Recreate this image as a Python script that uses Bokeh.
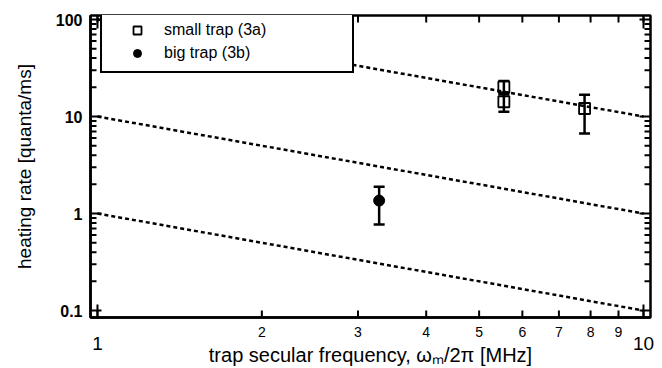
from bokeh.plotting import figure
from bokeh.models import (FixedTicker, LogAxis, Whisker, TeeHead, ColumnDataSource,
                          Legend, LegendItem, Range1d)
from bokeh.embed import file_html
from bokeh.resources import INLINE

# ---- data ----
x_ticks = [1, 2, 3, 4, 5, 6, 7, 8, 9, 10]
x_tick_labels = ["", "2", "3", "4", "5", "6", "7", "8", "9", ""]
x_big_ticks = [1, 10]
x_big_labels = ["1", "10"]
y_ticks = [0.1, 1, 10, 100]
y_tick_labels = ["0.1", "1", "10", "100"]
y_minor = [0.2, 0.3, 0.4, 0.5, 0.6, 0.7, 0.8, 0.9,
           2, 3, 4, 5, 6, 7, 8, 9,
           20, 30, 40, 50, 60, 70, 80, 90]

small_x = [5.55, 5.55, 7.8]
small_y = [20.2, 14.2, 12.1]
small_lo = [17.0, 11.2, 6.7]
small_hi = [23.3, 17.5, 16.8]

big_x = [3.28]
big_y = [1.36]
big_lo = [0.77]
big_hi = [1.89]

ref_x = [1, 10]
ref_y_low = [1, 0.1]
ref_y_mid = [10, 1]
ref_y_high = [100, 10]

FONT = "Liberation Sans"
X0, X1 = 0.971, 10.3
Y0, Y1 = 0.0848, 110

p = figure(width=662, height=368, x_axis_type="log", y_axis_type="log",
           x_range=Range1d(X0, X1), y_range=Range1d(Y0, Y1),
           output_backend="svg", toolbar_location=None,
           min_border_left=90, min_border_right=12, min_border_top=15, min_border_bottom=49)
p.grid.visible = False
p.outline_line_color = "black"
p.outline_line_width = 2.5
p.outline_line_alpha = 1.0
p.background_fill_color = "white"
p.border_fill_color = "white"

# bottom axis (small labels 2..9)
xa = p.xaxis[0]
xa.ticker = FixedTicker(ticks=x_ticks, minor_ticks=[])
xa.major_label_overrides = {t: l for t, l in zip(x_ticks, x_tick_labels)}
xa.major_label_text_font = FONT
xa.major_label_text_font_size = "14px"
xa.major_label_text_color = "black"
xa.major_label_standoff = 9
xa.major_tick_in = 0
xa.major_tick_out = 0
xa.minor_tick_in = 0
xa.minor_tick_out = 0
xa.axis_line_width = 2.5
xa.axis_line_color = "black"

# second bottom axis: big decade labels + axis title
xb = LogAxis(ticker=FixedTicker(ticks=x_big_ticks, minor_ticks=[]),
             major_label_overrides={t: l for t, l in zip(x_big_ticks, x_big_labels)},
             major_label_text_font=FONT, major_label_text_font_size="19px",
             major_label_text_color="black", major_label_standoff=-3,
             major_tick_in=0, major_tick_out=0, minor_tick_in=0, minor_tick_out=0,
             axis_line_color=None,
             axis_label="trap secular frequency, \u03c9\u2098/2\u03c0 [MHz]",
             axis_label_text_font=FONT, axis_label_text_font_size="20px",
             axis_label_text_font_style="normal", axis_label_text_color="black",
             axis_label_standoff=-9)
p.add_layout(xb, "below")

# left axis
ya = p.yaxis[0]
ya.ticker = FixedTicker(ticks=y_ticks, minor_ticks=y_minor)
ya.major_label_overrides = {t: l for t, l in zip(y_ticks, y_tick_labels)}
ya.major_label_text_font = FONT
ya.major_label_text_font_size = "16px"
ya.major_label_text_font_style = "bold"
ya.major_label_text_color = "black"
ya.major_label_standoff = 8
ya.major_tick_in = 0
ya.major_tick_out = 0
ya.minor_tick_in = 0
ya.minor_tick_out = 0
ya.axis_line_width = 2.5
ya.axis_line_color = "black"
ya.axis_label = "heating rate [quanta/ms]"
ya.axis_label_text_font = FONT
ya.axis_label_text_font_size = "19px"
ya.axis_label_text_font_style = "normal"
ya.axis_label_text_color = "black"
ya.axis_label_standoff = 18

# inward tick marks: small rects centred on the frame edges (outer half clipped by the frame)
def ticks_y(ys, length):
    for xe in (X0, X1):
        p.rect([xe] * len(ys), ys, width=2 * length, height=2, width_units="screen",
               height_units="screen", fill_color="black", line_color=None)

def ticks_x(xs, length):
    for ye in (Y0, Y1):
        p.rect(xs, [ye] * len(xs), width=2, height=2 * length, width_units="screen",
               height_units="screen", fill_color="black", line_color=None)

ticks_y(y_ticks, 11)
ticks_y(y_minor, 6)
ticks_x(x_ticks, 7)
ticks_x(x_big_ticks, 13)

# reference lines
for ys in (ref_y_low, ref_y_mid, ref_y_high):
    p.line(ref_x, ys, line_dash="4 3", line_width=2.5, line_color="black")

# error bars
src_small = ColumnDataSource(dict(x=small_x, y=small_y, lo=small_lo, hi=small_hi))
src_big = ColumnDataSource(dict(x=big_x, y=big_y, lo=big_lo, hi=big_hi))
for src in (src_small, src_big):
    w = Whisker(source=src, base="x", upper="hi", lower="lo", dimension="height",
                line_width=2.5, line_color="black",
                upper_head=TeeHead(size=11, line_width=2.5, line_color="black"),
                lower_head=TeeHead(size=11, line_width=2.5, line_color="black"))
    p.add_layout(w)

r_small = p.scatter("x", "y", source=src_small, marker="square", size=11,
                    fill_color=None, line_color="black", line_width=1.8)
r_big = p.scatter("x", "y", source=src_big, marker="circle", size=11,
                  fill_color="black", line_color="black")

legend = Legend(items=[LegendItem(label="small trap (3a)", renderers=[r_small]),
                       LegendItem(label="big trap (3b)", renderers=[r_big])],
                location=(10, 244), padding=8, spacing=3, glyph_width=54, glyph_height=20,
                label_height=20, label_width=180, label_standoff=0,
                border_line_color="black", border_line_width=2, border_line_alpha=1.0,
                background_fill_color="white", background_fill_alpha=1.0,
                label_text_font=FONT, label_text_font_size="16px", label_text_color="black",
                margin=0)
p.add_layout(legend)

open("out.html", "w").write(file_html(p, INLINE))
